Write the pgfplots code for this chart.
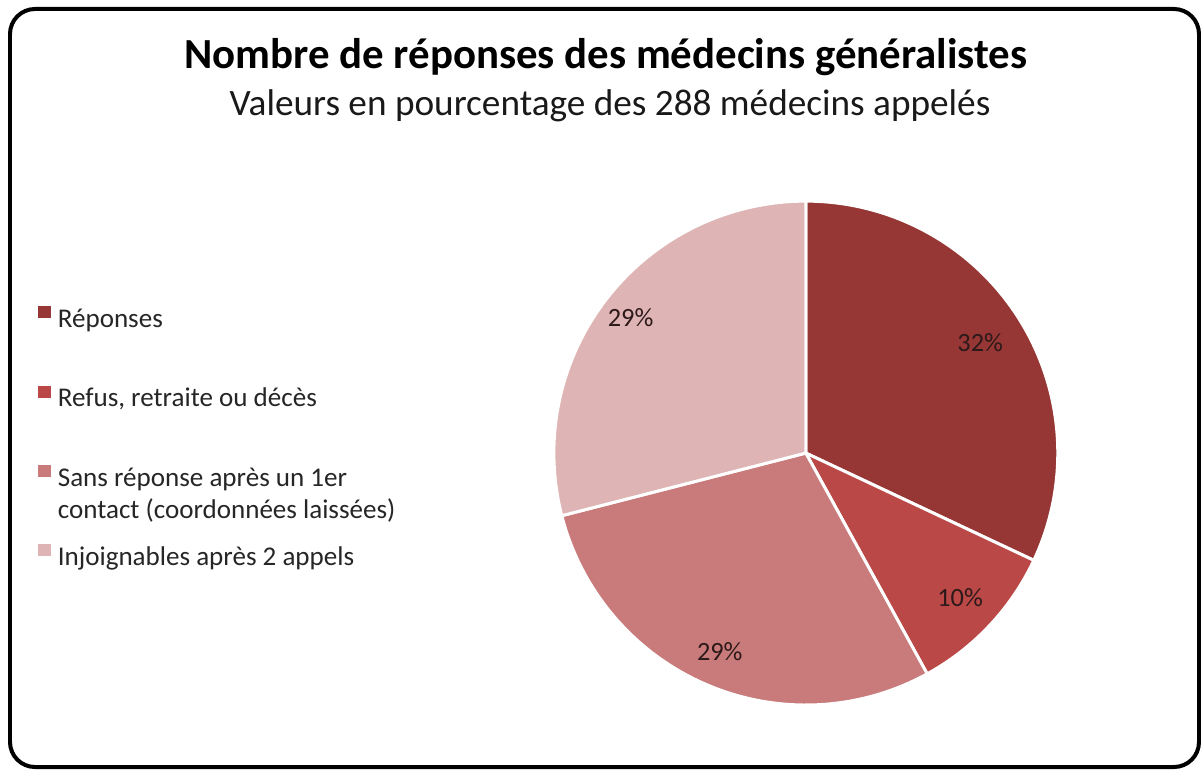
\documentclass[border=0pt]{standalone}
\usepackage{fontspec}
\setmainfont{Carlito}
\usepackage{pgfplots}
\usepackage{pgfplotstable}
\pgfplotsset{compat=1.18}

\definecolor{cRep}{RGB}{150,55,53}
\definecolor{cRef}{RGB}{185,72,70}
\definecolor{cSans}{RGB}{201,123,123}
\definecolor{cInj}{RGB}{222,180,180}
\definecolor{lbl}{RGB}{45,25,25}

% parts in percent, clockwise from 12 o'clock
\pgfplotstableread{
slice value
Reponses 32
Refus 10
Sans 29
Injoignables 29
}\piedata

\pgfplotstablegetelem{0}{value}\of\piedata \let\vA\pgfplotsretval
\pgfplotstablegetelem{1}{value}\of\piedata \let\vB\pgfplotsretval
\pgfplotstablegetelem{2}{value}\of\piedata \let\vC\pgfplotsretval
\pgfplotstablegetelem{3}{value}\of\piedata \let\vD\pgfplotsretval
\pgfmathsetmacro\aA{90}
\pgfmathsetmacro\aB{\aA-3.6*\vA}
\pgfmathsetmacro\aC{\aB-3.6*\vB}
\pgfmathsetmacro\aD{\aC-3.6*\vC}
\pgfmathsetmacro\aE{\aD-3.6*\vD}

\newcommand\lstrut{\rule[-0.3em]{0pt}{1em}}

\begin{document}
\begin{tikzpicture}[x=0.02cm,y=0.02cm]
\useasboundingbox (0,0) rectangle (1201,769);
\draw[line width=0.08cm, rounded corners=0.5cm] (10,2) rectangle (1199,760);

\node[anchor=base, font=\bfseries\fontsize{24.4pt}{28pt}\selectfont] at (606,700)
  {Nombre de réponses des médecins généralistes};
\node[anchor=base, font=\fontsize{21.2pt}{24pt}\selectfont, text=black!90] at (610,653)
  {Valeurs en pourcentage des 288 médecins appelés};

\begin{axis}[
    at={(16.12cm,6.32cm)}, anchor=center,
    x=5.04cm, y=5.04cm,
    xmin=-1.05, xmax=1.05, ymin=-1.05, ymax=1.05,
    hide axis, clip=false,
    legend cell align=left,
    legend style={
        draw=none, fill=none, inner sep=0pt,
        at={(-0.9512,0.778)}, anchor=north west,
        font=\fontsize{15.4pt}{18.2pt}\selectfont,
        text=black!85,
        nodes={inner sep=0pt},
        column sep=0.14cm, row sep=1.11cm,
    },
    legend image code/.code={\fill[#1,draw=none] (0cm,0.02cm) rectangle (0.25cm,0.26cm);},
    pie/.style={draw=white, line width=1.7pt, samples=90},
]
\addplot[pie, fill=cRep, domain=\aB:\aA] ({cos(x)},{sin(x)}) -- (axis cs:0,0) -- cycle;
\addlegendentry{\lstrut Réponses}
\addplot[pie, fill=cRef, domain=\aC:\aB] ({cos(x)},{sin(x)}) -- (axis cs:0,0) -- cycle;
\addlegendentry{\lstrut Refus, retraite ou décès}
\addplot[pie, fill=cSans, domain=\aD:\aC] ({cos(x)},{sin(x)}) -- (axis cs:0,0) -- cycle;
\addlegendentry{\lstrut\smash{\begin{tabular}[t]{@{}l@{}}Sans réponse après un 1er\\contact (coordonnées laissées)\end{tabular}}}
\addplot[pie, fill=cInj, domain=\aE:\aD] ({cos(x)},{sin(x)}) -- (axis cs:0,0) -- cycle;
\addlegendentry{\lstrut Injoignables après 2 appels}

\begin{scope}[font=\fontsize{15pt}{18pt}\selectfont, text=lbl]
\node at (axis cs:{0.82*cos((\aA+\aB)/2)},{0.82*sin((\aA+\aB)/2)}) {\vA\%};
\node at (axis cs:{0.84*cos((\aB+\aC)/2)},{0.84*sin((\aB+\aC)/2)}) {\vB\%};
\node at (axis cs:{0.86*cos((\aC+\aD)/2)},{0.86*sin((\aC+\aD)/2)}) {\vC\%};
\node at (axis cs:{0.88*cos((\aD+\aE)/2)},{0.88*sin((\aD+\aE)/2)}) {\vD\%};
\end{scope}
\end{axis}
\end{tikzpicture}
\end{document}
